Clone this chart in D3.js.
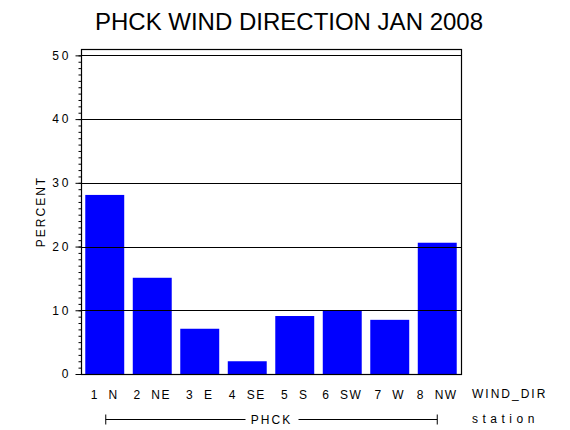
<!DOCTYPE html>
<html>
<head>
<meta charset="utf-8">
<script src="https://cdn.jsdelivr.net/npm/d3@7"></script>
<style>
	body { margin: 0; background: #fff; }
	text { font-family: 'Liberation Sans', Arial, sans-serif; fill: #000; }
</style>
</head>
<body>
<svg id="chart" width="570" height="430"></svg>
<script>
const titleText = 'PHCK WIND DIRECTION JAN 2008';
const directions = ['1  N', '2  NE', '3  E', '4  SE', '5  S', '6  SW', '7  W', '8  NW'];
const percents = [28.1, 15.1, 7.1, 2.0, 9.1, 9.9, 8.5, 20.6];
const yTicks = [0, 10, 20, 30, 40, 50];
const stationName = 'PHCK';

const width = 570;
const margin = { top: 49, right: 109, bottom: 56, left: 81 };
const plotBottom = 430 - margin.bottom;

const svg = d3.select('#chart');

const x = d3
	.scaleBand()
	.domain(directions)
	.range([margin.left, width - margin.right])
	.paddingInner(0.18)
	.paddingOuter(0.09);
const y = d3
	.scaleLinear()
	.domain([0, 51])
	.range([plotBottom, margin.top]);

// title
svg
	.append('text')
	.attr('x', 289)
	.attr('y', 30)
	.attr('text-anchor', 'middle')
	.style('font-size', '24px')
	.text(titleText);

// bars
svg
	.selectAll('.bar')
	.data(percents)
	.enter()
	.append('rect')
	.attr('class', 'bar')
	.attr('x', (d, i) => x(directions[i]))
	.attr('width', x.bandwidth())
	.attr('y', d => y(d))
	.attr('height', d => y(0) - y(d))
	.attr('fill', '#0000ff');

// gridlines, drawn over the bars
svg
	.selectAll('.grid')
	.data(yTicks.filter(d => d > 0))
	.enter()
	.append('line')
	.attr('class', 'grid')
	.attr('x1', margin.left)
	.attr('x2', width - margin.right)
	.attr('y1', d => Math.round(y(d)) + 0.5)
	.attr('y2', d => Math.round(y(d)) + 0.5)
	.attr('stroke', '#000')
	.attr('stroke-width', 1.2);

// frame
svg
	.append('rect')
	.attr('x', margin.left + 0.5)
	.attr('y', margin.top + 0.5)
	.attr('width', width - margin.right - margin.left)
	.attr('height', plotBottom - margin.top)
	.attr('fill', 'none')
	.attr('stroke', '#000')
	.attr('stroke-width', 1.2);

// y axis: minor then major ticks
const minorAxis = d3
	.axisLeft(y)
	.tickValues(d3.range(0, 51))
	.tickSize(3)
	.tickFormat('');
svg
	.append('g')
	.attr('transform', `translate(${margin.left + 0.5},0)`)
	.call(minorAxis)
	.call(g => g.select('.domain').remove());

const yAxis = d3
	.axisLeft(y)
	.tickValues(yTicks)
	.tickSize(6)
	.tickPadding(4);
svg
	.append('g')
	.attr('transform', `translate(${margin.left + 0.5},0)`)
	.call(yAxis)
	.call(g => g.select('.domain').remove())
	.selectAll('text')
	.style('font-family', "'Liberation Sans', Arial, sans-serif")
	.style('font-size', '12px')
	.style('letter-spacing', '3px');

svg.selectAll('.tick line').attr('stroke', '#000');

// y label
svg
	.append('text')
	.attr('transform', `translate(45,${(margin.top + plotBottom) / 2}) rotate(-90)`)
	.attr('text-anchor', 'middle')
	.style('font-size', '12px')
	.style('letter-spacing', '2px')
	.text('PERCENT');

// x axis labels
const xAxis = d3.axisBottom(x).tickSize(0).tickPadding(16);
svg
	.append('g')
	.attr('transform', `translate(0,${plotBottom})`)
	.call(xAxis)
	.call(g => g.select('.domain').remove())
	.selectAll('text')
	.style('font-family', "'Liberation Sans', Arial, sans-serif")
	.style('font-size', '12px')
	.style('letter-spacing', '1.5px')
	.style('white-space', 'pre');

svg
	.append('text')
	.attr('x', 472)
	.attr('y', 398)
	.style('font-size', '12px')
	.style('letter-spacing', '2px')
	.text('WIND_DIR');

// station bracket
const x0 = x(directions[0]) + x.bandwidth() / 2 + 1;
const x1 = x(directions[directions.length - 1]) + x.bandwidth() / 2;
const cx = (x0 + x1) / 2;
const bracketY = 419.5;
const bracket = svg.append('g').attr('stroke', '#000').attr('stroke-width', 1);
bracket.append('line').attr('x1', x0).attr('x2', cx - 26).attr('y1', bracketY).attr('y2', bracketY);
bracket.append('line').attr('x1', cx + 27).attr('x2', x1).attr('y1', bracketY).attr('y2', bracketY);
bracket.append('line').attr('x1', x0).attr('x2', x0).attr('y1', bracketY - 5).attr('y2', bracketY + 5);
bracket.append('line').attr('x1', x1).attr('x2', x1).attr('y1', bracketY - 5).attr('y2', bracketY + 5);

svg
	.append('text')
	.attr('x', cx)
	.attr('y', 424)
	.attr('text-anchor', 'middle')
	.style('font-size', '12px')
	.style('letter-spacing', '2px')
	.text(stationName);

svg
	.append('text')
	.attr('x', 472)
	.attr('y', 423)
	.style('font-size', '12px')
	.style('letter-spacing', '4.5px')
	.text('station');
</script>
</body>
</html>
